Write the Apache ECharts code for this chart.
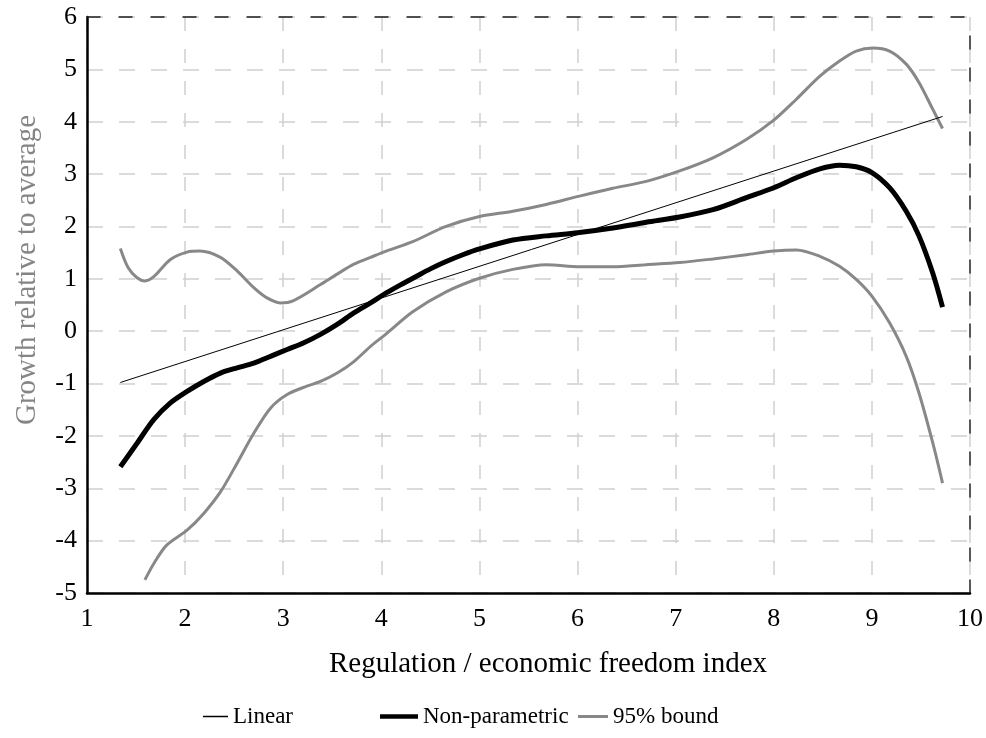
<!DOCTYPE html>
<html>
<head>
<meta charset="utf-8">
<script src="https://cdn.jsdelivr.net/npm/echarts@6/dist/echarts.min.js"></script>
<style>
html,body{margin:0;padding:0;background:#fff;}
#chart{width:986px;height:738px;}
</style>
</head>
<body>
<div id="chart"></div>
<script>
// ---- data ----
const xTicks = [1, 2, 3, 4, 5, 6, 7, 8, 9, 10];
const yTicks = [-5, -4, -3, -2, -1, 0, 1, 2, 3, 4, 5, 6];

const linearX = [1.34, 9.72];
const linearY = [-0.98, 4.10];

const npX = [1.34,1.51,1.68,1.85,2.02,2.19,2.36,2.53,2.70,2.87,3.04,3.21,3.38,3.55,3.72,3.89,4.05,4.20,4.35,4.50,4.66,4.83,5.00,5.34,5.68,6.00,6.36,6.70,7.04,7.38,7.72,8.00,8.23,8.47,8.67,8.84,9.00,9.18,9.35,9.48,9.62,9.72];
const npY = [-2.59,-2.14,-1.69,-1.37,-1.15,-0.96,-0.80,-0.70,-0.61,-0.48,-0.35,-0.22,-0.06,0.13,0.35,0.54,0.73,0.89,1.04,1.19,1.33,1.46,1.57,1.74,1.82,1.88,1.97,2.08,2.18,2.32,2.55,2.74,2.93,3.10,3.17,3.14,3.03,2.74,2.29,1.82,1.11,0.46];

const upX = [1.34,1.42,1.51,1.59,1.68,1.85,2.02,2.15,2.36,2.53,2.70,2.83,2.97,3.10,3.38,3.55,3.72,3.89,4.05,4.32,4.66,5.00,5.34,5.68,6.02,6.36,6.70,7.04,7.38,7.72,8.00,8.23,8.47,8.67,8.84,9.01,9.18,9.35,9.48,9.62,9.72];
const upY = [1.58,1.21,1.02,0.96,1.04,1.37,1.51,1.53,1.41,1.15,0.83,0.64,0.54,0.58,0.89,1.09,1.28,1.41,1.53,1.71,2.00,2.19,2.29,2.42,2.58,2.73,2.86,3.06,3.31,3.66,4.03,4.43,4.87,5.16,5.35,5.41,5.35,5.10,4.75,4.24,3.87];

const loX = [1.59,1.68,1.81,2.02,2.19,2.36,2.53,2.70,2.87,3.04,3.24,3.38,3.55,3.72,3.89,4.05,4.32,4.66,5.00,5.34,5.68,6.02,6.36,6.70,7.04,7.38,7.72,8.00,8.23,8.47,8.67,8.84,9.00,9.18,9.35,9.48,9.62,9.72];
const loY = [-4.75,-4.44,-4.09,-3.80,-3.48,-3.07,-2.52,-1.95,-1.47,-1.21,-1.05,-0.96,-0.80,-0.58,-0.29,-0.05,0.37,0.75,1.01,1.18,1.27,1.23,1.23,1.27,1.31,1.38,1.46,1.53,1.55,1.43,1.24,0.99,0.67,0.16,-0.48,-1.18,-2.13,-2.90];

const seriesNames = ['Linear', 'Non-parametric', '95% bound'];
const xTitle = 'Regulation / economic freedom index';
const yTitle = 'Growth relative to average';

// ---- build ----
const zip = (xs, ys) => xs.map((x, i) => [x, ys[i]]);
const FONT = '"Liberation Serif", "Times New Roman", serif';
const GRAY = '#858585';

const chart = echarts.init(document.getElementById('chart'), null, {renderer: 'canvas'});

const legendBase = (name, left, w, h, color) => ({
  data: [{name: name, icon: 'rect', itemStyle: {color: color}}],
  left: left, top: 705,
  itemWidth: w, itemHeight: h,
  textStyle: {fontFamily: FONT, fontSize: 23, color: '#000'},
  padding: 0
});

const option = {
  backgroundColor: '#fff',
  animation: false,
  grid: {left: 87, right: 16, top: 17, bottom: 145},
  xAxis: [
    {
      type: 'value', min: xTicks[0], max: xTicks[xTicks.length - 1], interval: 1,
      position: 'bottom',
      axisLine: {onZero: false, lineStyle: {color: '#000', width: 2.5}},
      axisTick: {show: false},
      axisLabel: {color: '#000', fontFamily: FONT, fontSize: 26, margin: 13},
      splitLine: {show: true, lineStyle: {color: '#cfcfcf', width: 1.5, type: [14, 18]}}
    },
    {
      type: 'value', min: xTicks[0], max: xTicks[xTicks.length - 1], interval: 1,
      position: 'top',
      axisLine: {show: true, onZero: false, lineStyle: {color: '#222', width: 1.5, type: [13, 19]}},
      axisTick: {show: false}, axisLabel: {show: false}, splitLine: {show: false}
    }
  ],
  yAxis: [
    {
      type: 'value', min: yTicks[0], max: yTicks[yTicks.length - 1], interval: 1,
      position: 'left',
      axisLine: {show: true, onZero: false, lineStyle: {color: '#000', width: 2.5}},
      axisTick: {show: false},
      axisLabel: {color: '#000', fontFamily: FONT, fontSize: 26, margin: 10},
      splitLine: {show: true, lineStyle: {color: '#cfcfcf', width: 1.5, type: [16, 16]}}
    },
    {
      type: 'value', min: yTicks[0], max: yTicks[yTicks.length - 1], interval: 1,
      position: 'right',
      axisLine: {show: true, onZero: false, lineStyle: {color: '#222', width: 1.5, type: [13, 19]}},
      axisTick: {show: false}, axisLabel: {show: false}, splitLine: {show: false}
    }
  ],
  legend: [
    legendBase(seriesNames[0], 203, 25, 1.5, '#000'),
    legendBase(seriesNames[1], 380, 38, 4.5, '#000'),
    legendBase(seriesNames[2], 578, 30, 3, '#888')
  ],
  graphic: [
    {
      type: 'text', x: 548, y: 664,
      style: {text: xTitle, fontFamily: FONT, fontSize: 29, fill: '#000', align: 'center', verticalAlign: 'middle'}
    },
    {
      type: 'text', x: 27, y: 270, rotation: Math.PI / 2,
      style: {text: yTitle, fontFamily: FONT, fontSize: 29, fill: GRAY, align: 'center', verticalAlign: 'middle'}
    }
  ],
  series: [
    {
      name: seriesNames[2], type: 'line', data: zip(upX, upY), smooth: 0.3,
      showSymbol: false, lineStyle: {color: '#888', width: 3}, itemStyle: {color: '#888'}, z: 2
    },
    {
      name: seriesNames[2], type: 'line', data: zip(loX, loY), smooth: 0.3,
      showSymbol: false, lineStyle: {color: '#888', width: 3}, itemStyle: {color: '#888'}, z: 2
    },
    {
      name: seriesNames[1], type: 'line', data: zip(npX, npY), smooth: 0.3,
      showSymbol: false, lineStyle: {color: '#000', width: 5}, itemStyle: {color: '#000'}, z: 3
    },
    {
      name: seriesNames[0], type: 'line', data: zip(linearX, linearY),
      showSymbol: false, lineStyle: {color: '#000', width: 1}, itemStyle: {color: '#000'}, z: 4
    }
  ]
};
chart.setOption(option);
</script>
</body>
</html>
